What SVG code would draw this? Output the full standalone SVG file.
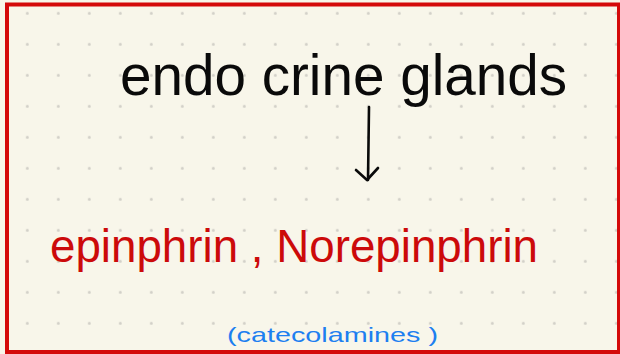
<svg xmlns="http://www.w3.org/2000/svg" width="620" height="354" viewBox="0 0 620 354">
  <defs>
    <pattern id="dots" x="11.8" y="-2.2" width="31" height="31" patternUnits="userSpaceOnUse">
      <circle cx="15.5" cy="15.5" r="1.5" fill="#d2d0c8"/>
    </pattern>
  </defs>
  <style>
    .title { font-family: "Liberation Sans", "DejaVu Sans", sans-serif; font-size: 58px; fill: #0a0a0a; }
    .red { font-family: "Liberation Sans", "DejaVu Sans", sans-serif; font-size: 46px; fill: #cc0a0a; }
    .blue { font-family: "Liberation Sans", "DejaVu Sans", sans-serif; font-size: 21px; fill: #1d7ff0; }
    .conn { stroke: #0a0a0a; stroke-width: 2.6; fill: none; stroke-linecap: round; stroke-linejoin: round; }
  </style>
  <rect x="0" y="0" width="620" height="354" fill="#f8f6ea"/>
  <rect x="0" y="0" width="620" height="354" fill="url(#dots)"/>
  <rect x="7" y="4.5" width="612" height="347.5" fill="none" stroke="#d40a0a" stroke-width="4"/>
  <g id="endocrine">
    <text class="title" x="120" y="95" textLength="447" lengthAdjust="spacingAndGlyphs">endo crine glands</text>
  </g>
  <g id="connectors">
    <line class="conn" x1="369" y1="107" x2="368" y2="180"/>
    <polyline class="conn" points="356,170 367,180 378,168"/>
  </g>
  <g id="hormones">
    <text class="red" x="50" y="262" textLength="488" lengthAdjust="spacingAndGlyphs">epinphrin , Norepinphrin</text>
  </g>
  <g id="catecolamines">
    <text class="blue" x="227" y="342" textLength="211" lengthAdjust="spacingAndGlyphs">(catecolamines )</text>
  </g>
</svg>
